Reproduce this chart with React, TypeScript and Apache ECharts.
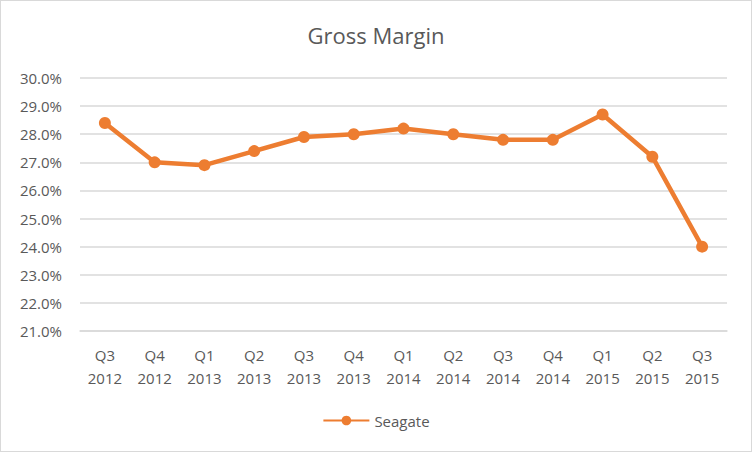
import React, { useEffect, useRef } from 'react'
import * as echarts from 'echarts'

const quarters = ['Q3', 'Q4', 'Q1', 'Q2', 'Q3', 'Q4', 'Q1', 'Q2', 'Q3', 'Q4', 'Q1', 'Q2', 'Q3']
const years = ['2012', '2012', '2013', '2013', '2013', '2013', '2014', '2014', '2014', '2014', '2015', '2015', '2015']
const seagate = [28.4, 27.0, 26.9, 27.4, 27.9, 28.0, 28.2, 28.0, 27.8, 27.8, 28.7, 27.2, 24.0]

const categories = quarters.map((q, i) => `${q}\n${years[i]}`)

const FONT = '"Open Sans", Roboto, sans-serif'
const TEXT = '#595959'

const App = () => {
  const chartRef = useRef<HTMLDivElement>(null)

  useEffect(() => {
    document.body.style.margin = '0'
    if (!chartRef.current) return
    const chart = echarts.init(chartRef.current, undefined, { renderer: 'svg' })
    chart.setOption({
      animation: false,
      title: {
        text: 'Gross Margin',
        left: 'center',
        top: 18,
        textStyle: { color: TEXT, fontSize: 22, fontWeight: 'normal', fontFamily: FONT },
      },
      legend: {
        bottom: 18,
        left: 'center',
        itemWidth: 46,
        itemHeight: 12,
        itemGap: 10,
        textStyle: { color: TEXT, fontSize: 15, fontFamily: FONT },
        data: ['Seagate'],
      },
      grid: { left: 79, right: 24, top: 77, bottom: 120 },
      xAxis: {
        type: 'category',
        data: categories,
        boundaryGap: true,
        axisLine: { lineStyle: { color: '#d9d9d9', width: 1.5 } },
        axisTick: { show: false },
        axisLabel: { color: TEXT, fontSize: 15, fontFamily: FONT, lineHeight: 23, margin: 12, interval: 0 },
      },
      yAxis: {
        type: 'value',
        min: 21,
        max: 30,
        interval: 1,
        axisLine: { show: false },
        axisTick: { show: false },
        splitLine: { lineStyle: { color: '#d9d9d9', width: 1.5 } },
        axisLabel: {
          color: TEXT,
          fontSize: 15,
          fontFamily: FONT,
          margin: 18,
          formatter: (v: number) => v.toFixed(1) + '%',
        },
      },
      series: [
        {
          name: 'Seagate',
          type: 'line',
          data: seagate,
          symbol: 'circle',
          symbolSize: 12,
          lineStyle: { color: '#ED7D31', width: 4.5 },
          itemStyle: { color: '#ED7D31' },
        },
      ],
    })
    return () => {
      chart.dispose()
    }
  }, [])

  return (
    <div
      style={{
        position: 'absolute',
        left: 0,
        top: 0,
        width: 752,
        height: 452,
        boxSizing: 'border-box',
        border: '1px solid #d9d9d9',
        background: '#fff',
      }}
    >
      <div ref={chartRef} style={{ width: '100%', height: '100%' }} />
    </div>
  )
}

export default App
